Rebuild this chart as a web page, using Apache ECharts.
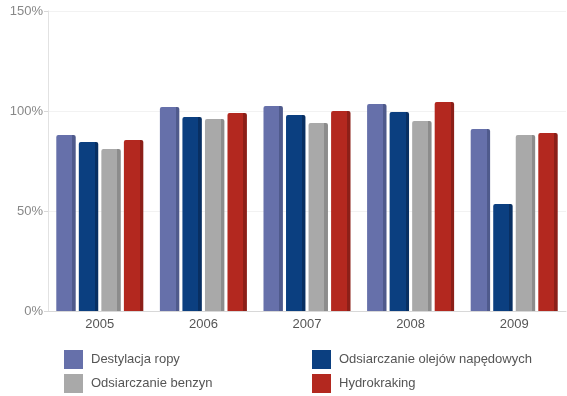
<!DOCTYPE html>
<html>
<head>
<meta charset="utf-8">
<script src="https://cdn.jsdelivr.net/npm/echarts@6/dist/echarts.min.js"></script>
<style>
  html, body { margin: 0; padding: 0; background: #fff; }
  #chart { width: 567px; height: 396px; }
</style>
</head>
<body>
<div id="chart"></div>
<script>
const years = ['2005', '2006', '2007', '2008', '2009'];
const seriesNames = ['Destylacja ropy', 'Odsiarczanie olejów napędowych', 'Odsiarczanie benzyn', 'Hydrokraking'];
const destylacja = [88, 102, 102.5, 103.5, 91];
const olejow = [84.5, 97, 98, 99.5, 53.5];
const benzyn = [81, 96, 94, 95, 88];
const hydro = [85.5, 99, 100, 104.5, 89];
const colors = ['#6670aa', '#0b3f80', '#a9a9a9', '#b3281f'];
const sides = ['#4f5a8c', '#082f62', '#8c8c8c', '#8c1f18'];

let dom = document.getElementById('chart');
let myChart = echarts.init(dom, null, {renderer: 'canvas'});

function face(i) {
    // fake 3D: darker right side on each bar
    return {
        type: 'linear', x: 0, y: 0, x2: 1, y2: 0,
        colorStops: [
            {offset: 0, color: colors[i]},
            {offset: 0.82, color: colors[i]},
            {offset: 0.82, color: sides[i]},
            {offset: 1, color: sides[i]}
        ]
    };
}

const values = [destylacja, olejow, benzyn, hydro];
const series = values.map(function (v, i) {
    return {
        name: seriesNames[i],
        type: 'bar',
        data: v,
        barGap: '16%',
        barCategoryGap: '16%',
        itemStyle: {color: face(i), borderRadius: [2, 2, 0, 0]}
    };
});

function legendItem(i) {
    return {name: seriesNames[i], itemStyle: {color: colors[i], borderRadius: 0}};
}

const legendText = {color: '#555', fontSize: 13, fontFamily: 'Liberation Sans', padding: [0, 0, 0, 3]};

const option = {
    animation: false,
    grid: {left: 48, right: 1, top: 11, bottom: 85},
    legend: [
        {
            orient: 'vertical', left: 64, top: 350, padding: 0, itemWidth: 19, itemHeight: 19, itemGap: 5,
            icon: 'rect', textStyle: legendText,
            data: [legendItem(0), legendItem(2)]
        },
        {
            orient: 'vertical', left: 312, top: 350, padding: 0, itemWidth: 19, itemHeight: 19, itemGap: 5,
            icon: 'rect', textStyle: legendText,
            data: [legendItem(1), legendItem(3)]
        }
    ],
    xAxis: {
        type: 'category',
        data: years,
        axisLine: {lineStyle: {color: '#d8d8d8'}},
        axisTick: {show: false},
        axisLabel: {color: '#555', fontSize: 13, fontFamily: 'Liberation Sans', margin: 7}
    },
    yAxis: {
        type: 'value',
        min: 0, max: 150, interval: 50,
        axisLine: {show: true, lineStyle: {color: '#e2e2e2'}},
        axisTick: {show: true, length: 4, lineStyle: {color: '#d8d8d8'}},
        splitLine: {lineStyle: {color: '#f2f2f2'}},
        axisLabel: {color: '#888', fontSize: 13, fontFamily: 'Liberation Sans', margin: 5, formatter: '{value}%'}
    },
    series: series
};
myChart.setOption(option, true);
</script>
</body>
</html>
